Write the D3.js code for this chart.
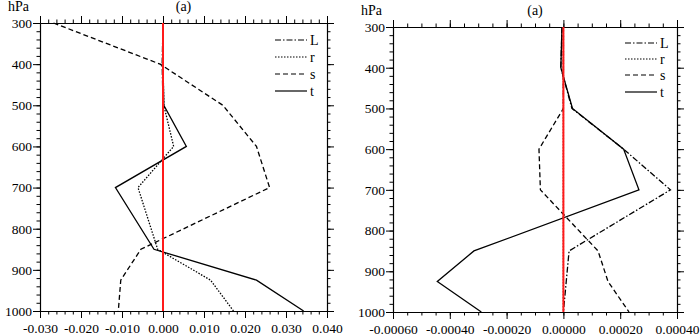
<!DOCTYPE html>
<html>
<head>
<meta charset="utf-8">
<script src="https://cdn.jsdelivr.net/npm/d3@7"></script>
<style>
  html, body { margin: 0; padding: 0; background: #fff; }
  svg { display: block; }
  text { font-family: "Liberation Serif", "DejaVu Serif", serif; }
</style>
</head>
<body>
<svg id="chart" width="700" height="336"></svg>
<script>
// pressure levels (hPa)
const levels = [300, 400, 500, 600, 700, 850, 925, 1000];
const seriesNames = ["L", "r", "s", "t"];

// left panel
const leftL = [0.0, -0.0002, 0.0, 0.0, 0.0, 0.0, 0.0, 0.0];
const leftR = [0.0, 0.0, 0.0002, 0.0026, -0.0061, -0.0013, 0.0116, 0.0172];
const leftS = [-0.0267, -0.0007, 0.0146, 0.0228, 0.026, -0.0054, -0.0103, -0.0109];
const leftT = [0.0, 0.0, 0.0002, 0.0057, -0.0116, -0.0022, 0.0228, 0.0343];
const leftTicks = [-0.03, -0.02, -0.01, 0.0, 0.01, 0.02, 0.03, 0.04];

// right panel
const rightL = [-0.000005, -0.000009, 0.00003, 0.000212, 0.000377, 0.00002, 0.00001, 0.0];
const rightR = [0.0, 0.0, 0.0, 0.0, 0.0, 0.0, 0.0, 0.0];
const rightS = [0.0, 0.0, 0.0, -0.000086, -0.000081, 0.000122, 0.000157, 0.000231];
const rightT = [-0.000005, -0.000009, 0.000032, 0.000212, 0.000266, -0.000315, -0.000444, -0.000289];
const rightTicks = [-0.0006, -0.0004, -0.0002, 0.0, 0.0002, 0.0004];

const dashes = { L: "6,2,1.5,2", r: "1.5,1.5", s: "5,3", t: null };

const svg = d3.select("#chart");

function drawPanel(cfg) {
  const { left, right, top, bottom, ticks, minorStep, digits, series, legendY } = cfg;

  const x = d3.scaleLinear().domain(d3.extent(ticks)).range([left, right]);
  const y = d3.scaleLinear().domain([300, 1000]).range([top, bottom]);

  const g = svg.append("g");

  const n = Math.round((ticks[ticks.length - 1] - ticks[0]) / minorStep);
  const xMinor = d3.range(n + 1).map((i) => ticks[0] + i * minorStep);
  const yMinor = d3.range(300, 1001, 20);
  const yMajor = d3.range(300, 1001, 100);

  const styleAxis = (sel) => {
    sel.selectAll("path").attr("stroke", "#000").attr("stroke-width", 1.1);
    sel.selectAll("line").attr("stroke", "#000").attr("stroke-width", 1);
    sel.selectAll("text")
      .attr("font-size", "13.5px")
      .attr("fill", "#000");
  };

  // minor ticks on all four sides
  g.append("g").attr("transform", `translate(0,${bottom})`)
    .call(d3.axisBottom(x).tickValues(xMinor).tickSize(3.5).tickSizeOuter(0).tickFormat(""))
    .call(styleAxis);
  g.append("g").attr("transform", `translate(0,${top})`)
    .call(d3.axisTop(x).tickValues(xMinor).tickSize(3.5).tickSizeOuter(0).tickFormat(""))
    .call(styleAxis);
  g.append("g").attr("transform", `translate(${left},0)`)
    .call(d3.axisLeft(y).tickValues(yMinor).tickSize(3.5).tickSizeOuter(0).tickFormat(""))
    .call(styleAxis);
  g.append("g").attr("transform", `translate(${right},0)`)
    .call(d3.axisRight(y).tickValues(yMinor).tickSize(3.5).tickSizeOuter(0).tickFormat(""))
    .call(styleAxis);

  // major ticks + labels
  g.append("g").attr("transform", `translate(0,${bottom})`)
    .call(d3.axisBottom(x).tickValues(ticks).tickSize(7).tickSizeOuter(0)
      .tickFormat((d) => (Math.abs(d) < 1e-12 ? 0 : d).toFixed(digits)))
    .call(styleAxis)
    .call((a) => a.selectAll("text").attr("dy", "0.9em"));
  g.append("g").attr("transform", `translate(0,${top})`)
    .call(d3.axisTop(x).tickValues(ticks).tickSize(7).tickSizeOuter(0).tickFormat(""))
    .call(styleAxis);
  g.append("g").attr("transform", `translate(${left},0)`)
    .call(d3.axisLeft(y).tickValues(yMajor).tickSize(7).tickSizeOuter(0).tickFormat(d3.format("d")))
    .call(styleAxis)
    .call((a) => a.selectAll("text").attr("x", -8));
  g.append("g").attr("transform", `translate(${right},0)`)
    .call(d3.axisRight(y).tickValues(yMajor).tickSize(7).tickSizeOuter(0).tickFormat(""))
    .call(styleAxis);

  // curves
  const line = d3.line().x((d) => x(d[0])).y((d) => y(d[1]));
  seriesNames.forEach((name, k) => {
    const pts = series[k].map((v, i) => [v, levels[i]]);
    g.append("path")
      .datum(pts)
      .attr("d", line)
      .attr("fill", "none")
      .attr("stroke", "#000")
      .attr("stroke-width", 1.3)
      .attr("stroke-dasharray", dashes[name]);
  });

  // zero line in red
  g.append("path")
    .datum([[0, 300], [0, 1000]])
    .attr("d", line)
    .attr("stroke", "#ff1a1a")
    .attr("stroke-width", 2);

  // legend
  const lx1 = right - 52, lx2 = right - 20;
  seriesNames.forEach((name, k) => {
    const ly = legendY[k];
    g.append("line")
      .attr("x1", lx1).attr("x2", lx2).attr("y1", ly).attr("y2", ly)
      .attr("stroke", "#000").attr("stroke-width", 1.2)
      .attr("stroke-dasharray", dashes[name]);
    g.append("text")
      .attr("x", lx2 + 3).attr("y", ly).attr("dy", "0.35em")
      .attr("font-size", "14px").attr("fill", "#000")
      .text(name);
  });

  // titles
  g.append("text")
    .attr("x", (left + right) / 2).attr("y", top - 12)
    .attr("text-anchor", "middle").attr("font-size", "14px").attr("fill", "#000")
    .text("(a)");
  g.append("text")
    .attr("x", left - 32).attr("y", top - 12)
    .attr("font-size", "14px").attr("fill", "#000")
    .text("hPa");
}

drawPanel({
  left: 40, right: 327, top: 23, bottom: 311,
  ticks: leftTicks, minorStep: 0.002, digits: 3,
  series: [leftL, leftR, leftS, leftT],
  legendY: [40, 57, 74, 91],
});

drawPanel({
  left: 393, right: 677, top: 27, bottom: 312,
  ticks: rightTicks, minorStep: 0.00005, digits: 5,
  series: [rightL, rightR, rightS, rightT],
  legendY: [43, 59, 75, 92],
});
</script>
</body>
</html>
